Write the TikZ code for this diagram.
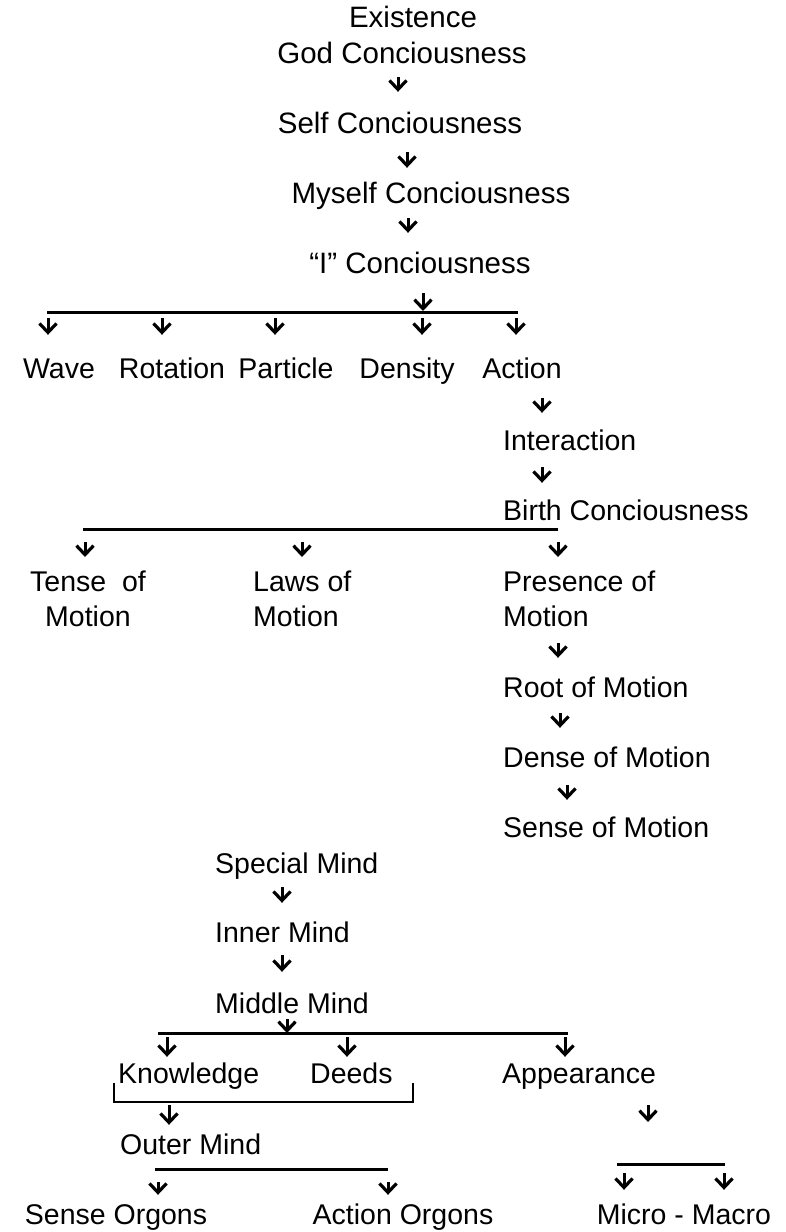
\documentclass[tikz,border=0pt]{standalone}
\usepackage{fontspec}
\setmainfont{Liberation Sans}
\usetikzlibrary{arrows.meta}

\begin{document}
\begin{tikzpicture}[
    x=1pt, y=-1pt,
    lbl/.style={inner sep=0pt, font=\fontsize{28.5}{35}\selectfont, text height=21pt, text depth=6pt},
    big/.style={font=\fontsize{29.5}{35}\selectfont},
    lbltwo/.style={inner sep=0pt, font=\fontsize{28.5}{35}\selectfont},
    bar/.style={line width=3pt},
    flow/.style={line width=3pt, -{Straight Barb[length=9pt,width=17pt,line width=3.2pt]}},
    link/.style 2 args={flow, shorten <=#1pt, shorten >=#2pt}
  ]
  \useasboundingbox (0,0) rectangle (786,1232);

  % consciousness chain
  \node[lbl, big, anchor=base] (exist)  at (413,27)  {Existence};
  \node[lbl, big, anchor=base] (god)    at (402,63)  {God Conciousness};
  \node[lbl, big, anchor=base] (self)   at (400,133) {Self Conciousness};
  \node[lbl, big, anchor=base] (myself) at (431,203) {Myself Conciousness};
  \node[lbl, big, anchor=base] (iconc)  at (420,273) {“I” Conciousness};
  \draw[link={8}{20}]  (god.south -| 398,0)    -- (self.north -| 398,0);
  \draw[link={13}{14}] (self.south -| 407,0)   -- (myself.north -| 407,0);
  \draw[link={9}{19}]  (myself.south -| 408,0) -- (iconc.north -| 408,0);

  % first split
  \coordinate (b1l) at (47,312);
  \coordinate (b1r) at (518,312);
  \draw[bar] (b1l) -- (b1r);
  \draw[link={14}{1}] (iconc.south -| 423,0) -- (b1l -| 423,0);
  \node[lbl, anchor=base] (wave) at (59,378)  {Wave};
  \node[lbl, anchor=base] (rot)  at (172,378) {Rotation};
  \node[lbl, anchor=base] (part) at (286,378) {Particle};
  \node[lbl, anchor=base] (dens) at (407,378) {Density};
  \node[lbl, anchor=base] (act)  at (522,378) {Action};
  \draw[link={6}{22}] (b1l -| 48,0)  -- (wave.north -| 48,0);
  \draw[link={6}{22}] (b1l -| 162,0) -- (rot.north -| 162,0);
  \draw[link={6}{22}] (b1l -| 275,0) -- (part.north -| 275,0);
  \draw[link={6}{22}] (b1l -| 422,0) -- (dens.north -| 422,0);
  \draw[link={6}{22}] (b1l -| 516,0) -- (act.north -| 516,0);

  % action branch
  \node[lbl, anchor=base west] (inter) at (503,450) {Interaction};
  \node[lbl, anchor=base west] (birth) at (503,520) {Birth Conciousness};
  \draw[link={14}{16}] (act.south -| 542,0)   -- (inter.north -| 542,0);
  \draw[link={11}{16}] (inter.south -| 542,0) -- (birth.north -| 542,0);

  % motion split
  \coordinate (b2l) at (83,529);
  \coordinate (b2r) at (558,529);
  \draw[bar] (b2l) -- (b2r);
  \node[lbltwo, align=center, anchor=north] (tense) at (88,571) {Tense\ \ of\\Motion};
  \node[lbltwo, align=left, anchor=north west] (laws) at (253,571) {Laws of\\Motion};
  \node[lbltwo, align=left, anchor=north west] (pres) at (503,571) {Presence of\\Motion};
  \draw[link={13}{14}] (b2l -| 85,0)  -- (tense.north -| 85,0);
  \draw[link={13}{14}] (b2l -| 302,0) -- (laws.north -| 302,0);
  \draw[link={13}{14}] (b2l -| 558,0) -- (pres.north -| 558,0);

  \node[lbl, anchor=base west] (root)   at (503,697) {Root of Motion};
  \node[lbl, anchor=base west] (dense)  at (503,767) {Dense of Motion};
  \node[lbl, anchor=base west] (sensem) at (503,837) {Sense of Motion};
  \draw[link={16}{18}] (pres.south -| 558,0)  -- (root.north -| 558,0);
  \draw[link={10}{18}] (root.south -| 560,0)  -- (dense.north -| 560,0);
  \draw[link={12}{16}] (dense.south -| 567,0) -- (sensem.north -| 567,0);

  % mind chain
  \node[lbl, anchor=base west] (special) at (215,873)  {Special Mind};
  \node[lbl, anchor=base west] (inner)   at (215,942)  {Inner Mind};
  \node[lbl, anchor=base west] (middle)  at (215,1013) {Middle Mind};
  \draw[link={8}{18}] (special.south -| 282,0) -- (inner.north -| 282,0);
  \draw[link={7}{20}] (inner.south -| 282,0)   -- (middle.north -| 282,0);

  \coordinate (b3l) at (158,1033);
  \coordinate (b3r) at (568,1033);
  \draw[bar] (b3l) -- (b3r);
  \draw[link={0}{0}] (middle.south -| 287,0) -- (b3l -| 287,0);
  \node[lbl, anchor=base west] (know)   at (118,1083) {Knowledge};
  \node[lbl, anchor=base west] (deeds)  at (310,1083) {Deeds};
  \node[lbl, anchor=base west] (appear) at (502,1083) {Appearance};
  \draw[link={4}{5}] (b3l -| 167,0) -- (know.north -| 167,0);
  \draw[link={4}{5}] (b3l -| 347,0) -- (deeds.north -| 347,0);
  \draw[link={4}{5}] (b3l -| 565,0) -- (appear.north -| 565,0);

  % bracket under knowledge and deeds
  \coordinate (brl) at (114,1102);
  \coordinate (brr) at (413,1102);
  \draw[line width=2.8pt] ([yshift=19pt]brl) -- (brl) -- (brr) -- ([yshift=19pt]brr);
  \node[lbl, anchor=base west] (outer) at (120,1154) {Outer Mind};
  \draw[link={3}{8}] (brl -| 169,0) -- (outer.north -| 169,0);

  % organs
  \coordinate (b4l) at (155,1169);
  \coordinate (b4r) at (388,1169);
  \draw[bar] (b4l) -- (b4r);
  \node[lbl, anchor=base] (senseo)  at (116,1224) {Sense Orgons};
  \node[lbl, anchor=base] (actiono) at (403,1224) {Action Orgons};
  \draw[link={13}{8}] (b4l -| 158,0) -- (senseo.north -| 158,0);
  \draw[link={13}{8}] (b4l -| 388,0) -- (actiono.north -| 388,0);

  % micro - macro
  \coordinate (b5l) at (617,1164);
  \coordinate (b5r) at (725,1164);
  \draw[bar] (b5l) -- (b5r);
  \draw[link={16}{42}] (appear.south -| 648,0) -- (b5l -| 648,0);
  \node[lbl, anchor=base] (micro) at (684,1224) {Micro - Macro};
  \draw[link={9}{13}] (b5l -| 624,0) -- (micro.north -| 624,0);
  \draw[link={9}{13}] (b5l -| 724,0) -- (micro.north -| 724,0);
\end{tikzpicture}
\end{document}
